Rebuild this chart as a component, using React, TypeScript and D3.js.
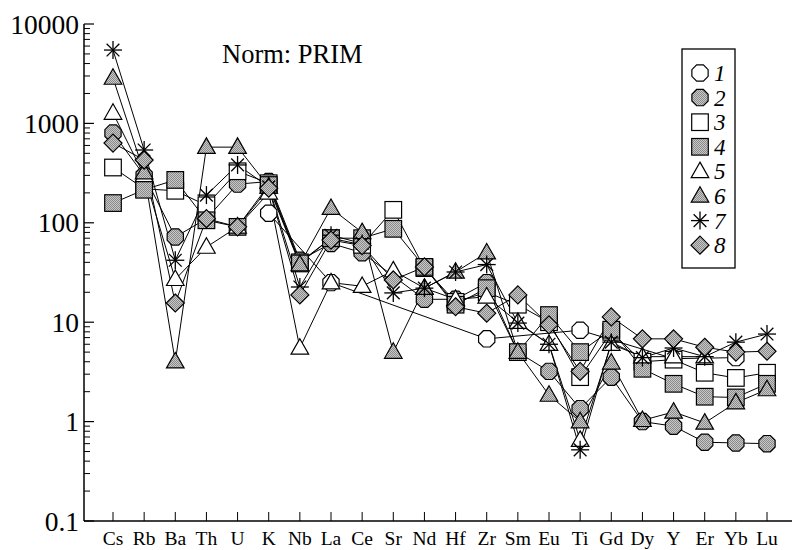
import React from "react";
import * as d3 from "d3";

const elements = ["Cs","Rb","Ba","Th","U","K","Nb","La","Ce","Sr","Nd","Hf","Zr","Sm","Eu","Ti","Gd","Dy","Y","Er","Yb","Lu"];
const yTicks = [0.1, 1, 10, 100, 1000, 10000];
const legendLabels = ["1","2","3","4","5","6","7","8"];
const shapes = ["octagon","octagon","square","square","triangle","triangle","star","diamond"];
const filled = [false,true,false,true,false,true,false,true];

const s1 = [null,null,null,null,null,125,null,25,null,null,null,null,6.8,null,null,8.3,null,null,4.3,null,4.4,null];
const s2 = [800,300,72,110,245,260,42,62,50,null,17,17,25,5,3.2,1.35,2.8,1.0,0.9,0.62,0.61,0.6];
const s3 = [360,220,210,150,330,250,40,70,60,135,35,16,20,15,10,2.8,8.0,4.0,4.2,3.1,2.75,3.1];
const s4 = [158,215,270,106,91,240,39,70,70,87,36,15,22,5.0,11.8,5.0,8.4,3.4,2.4,1.78,1.75,2.4];
const s5 = [1270,300,27,57,91,200,5.5,25,23,33,22,17,18,10,6,0.65,6,4.5,4.5,4.5,null,null];
const s6 = [2860,320,4.0,577,577,230,38,140,80,5.0,22,32,50,5.0,1.85,1.0,3.9,1.03,1.25,0.97,1.55,2.1];
const s7 = [5470,540,42,190,382,230,22.6,75,62,19.7,22,32,38,9.8,6,0.52,6.3,4.4,5.5,4.5,6.3,7.6];
const s8 = [634,428,15.6,110,91,223,18.8,67,59,26.6,36,14.3,12.3,18.8,9.4,3.2,11.3,6.8,6.8,5.6,5.0,5.1];
const seriesList = [s1,s2,s3,s4,s5,s6,s7,s8];

const FONT = "'Liberation Serif', 'Times New Roman', serif";

function Marker({ shape, fill, x, y }: { shape: string; fill: boolean; x: number; y: number }) {
  const f = fill ? "url(#stipple)" : "#fff";
  const sw = 1.2;
  if (shape === "octagon") {
    const r = 8.8;
    const pts = d3.range(8).map(i => {
      const a = (Math.PI / 8) + i * Math.PI / 4;
      return [x + r * Math.cos(a), y + r * Math.sin(a)].join(",");
    }).join(" ");
    return <polygon points={pts} fill={f} stroke="#000" strokeWidth={sw} />;
  }
  if (shape === "square") {
    const h = 8.3;
    return <rect x={x - h} y={y - h} width={2 * h} height={2 * h} fill={f} stroke="#000" strokeWidth={sw} />;
  }
  if (shape === "triangle") {
    const w = 8.8, ht = 15.5;
    const pts = [[x, y - ht * 0.6], [x + w, y + ht * 0.4], [x - w, y + ht * 0.4]].map(p => p.join(",")).join(" ");
    return <polygon points={pts} fill={f} stroke="#000" strokeWidth={sw} />;
  }
  if (shape === "diamond") {
    const r = 9;
    const pts = [[x, y - r], [x + r, y], [x, y + r], [x - r, y]].map(p => p.join(",")).join(" ");
    return <polygon points={pts} fill={f} stroke="#000" strokeWidth={sw} />;
  }
  const r = 9;
  return (
    <g stroke="#000" strokeWidth={1.3}>
      {d3.range(4).map(i => {
        const a = i * Math.PI / 4;
        return <line key={i} x1={x - r * Math.cos(a)} y1={y - r * Math.sin(a)} x2={x + r * Math.cos(a)} y2={y + r * Math.sin(a)} />;
      })}
    </g>
  );
}

export default function App() {
  const W = 792, H = 550;
  const x = d3.scalePoint<string>().domain(elements).range([113, 767]);
  const y = d3.scaleLog().domain([0.1, 10000]).range([521, 24]);
  const axisLeft = 84;
  const axisBottom = 521;

  const minorTicks: number[] = [];
  for (let e = -1; e < 4; e++) {
    for (let m = 2; m <= 9; m++) minorTicks.push(m * Math.pow(10, e));
  }

  const line = d3.line<[string, number]>()
    .x(d => x(d[0]) as number)
    .y(d => y(d[1]));

  const legendYs = legendLabels.map((_, i) => 73 + i * 24.6);

  return (
    <svg width={W} height={H} style={{ position: "absolute", left: 0, top: 0, background: "#fff" }}>
      <defs>
        <pattern id="stipple" width="2" height="2" patternUnits="userSpaceOnUse">
          <rect width="2" height="2" fill="#c8c8c8" />
          <rect x="0" y="0" width="1" height="1" fill="#8a8a8a" />
          <rect x="1" y="1" width="1" height="1" fill="#8a8a8a" />
        </pattern>
      </defs>
      <rect width={W} height={H} fill="#fff" />

      {seriesList.map((s, si) => {
        const pts = elements.map((el, i) => [el, s[i]] as [string, number | null])
          .filter(d => d[1] != null) as [string, number][];
        return <path key={"l" + si} d={line(pts) || ""} fill="none" stroke="#000" strokeWidth={1} />;
      })}

      {seriesList.map((s, si) => (
        <g key={"m" + si}>
          {elements.map((el, i) => s[i] == null ? null : (
            <Marker key={i} shape={shapes[si]} fill={filled[si]} x={x(el) as number} y={y(s[i] as number)} />
          ))}
        </g>
      ))}

      <line x1={axisLeft} y1={y(10000)} x2={axisLeft} y2={axisBottom} stroke="#000" strokeWidth={1.5} />
      <line x1={axisLeft} y1={axisBottom} x2={W} y2={axisBottom} stroke="#000" strokeWidth={1.5} />
      {yTicks.map(t => (
        <g key={"yt" + t}>
          <line x1={axisLeft} x2={axisLeft + 10} y1={y(t)} y2={y(t)} stroke="#000" strokeWidth={1.2} />
          <text x={axisLeft - 5} y={y(t)} dy="0.35em" textAnchor="end" fontFamily={FONT} fontSize={27.5}>{String(t)}</text>
        </g>
      ))}
      {minorTicks.map(t => (
        <line key={"mt" + t} x1={axisLeft} x2={axisLeft + 6} y1={y(t)} y2={y(t)} stroke="#000" strokeWidth={1} />
      ))}
      {elements.map(el => (
        <g key={"xt" + el}>
          <line x1={x(el) as number} x2={x(el) as number} y1={axisBottom} y2={axisBottom - 9} stroke="#000" strokeWidth={1} />
          <text x={x(el) as number} y={545} textAnchor="middle" fontFamily={FONT} fontSize={19.5}>{el}</text>
        </g>
      ))}

      <text x={222} y={63} fontFamily={FONT} fontSize={26.5}>Norm: PRIM</text>

      <rect x={682} y={49} width={53} height={219} fill="#fff" stroke="#000" strokeWidth={1.3} />
      {legendLabels.map((lab, i) => (
        <g key={"lg" + i}>
          <Marker shape={shapes[i]} fill={filled[i]} x={700} y={legendYs[i]} />
          <text x={714} y={legendYs[i]} dy="0.35em" fontFamily={FONT} fontStyle="italic" fontSize={23}>{lab}</text>
        </g>
      ))}
    </svg>
  );
}
